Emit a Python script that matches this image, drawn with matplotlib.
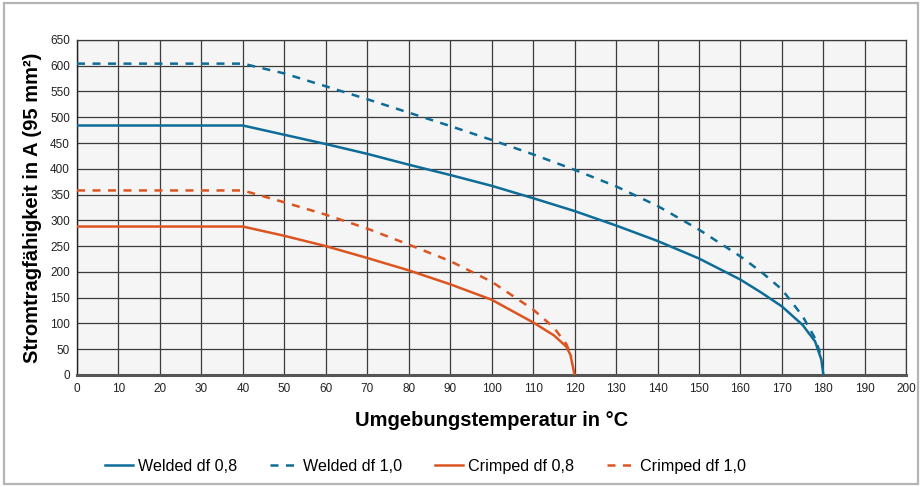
import matplotlib
matplotlib.use("Agg")
import matplotlib.pyplot as plt
from matplotlib.patches import Rectangle

plt.rcParams["font.family"] = ["Liberation Sans", "DejaVu Sans"]

# ============================================================
# DATA
# ============================================================

WELDED_08_T = [0, 40, 50, 60, 70, 80, 90, 100, 110, 120, 130, 140, 150,
               160, 165, 170, 175, 178, 179.5, 180]
WELDED_08_I = [484, 484, 466, 448, 429, 408, 388, 367, 343, 318, 290, 260, 226,
               185, 160, 133, 97, 65, 30, 0]

WELDED_10_T = [0, 40, 50, 60, 70, 80, 90, 100, 110, 120, 130, 140, 150,
               160, 165, 170, 175, 178, 179.5]
WELDED_10_I = [604, 604, 585, 560, 535, 509, 483, 456, 428, 398, 366, 328, 282,
               230, 200, 166, 114, 71, 35]

CRIMPED_08_T = [0, 40, 50, 60, 70, 80, 90, 100, 110, 115, 118, 119, 120]
CRIMPED_08_I = [288, 288, 270, 250, 227, 203, 176, 146, 102, 77, 55, 39, 0]

CRIMPED_10_T = [0, 40, 50, 60, 70, 80, 90, 100, 110, 115, 118, 119.3]
CRIMPED_10_I = [358, 358, 335, 311, 284, 253, 221, 181, 127, 92, 60, 36]

X_TICKS = list(range(0, 201, 10))
Y_TICKS = list(range(0, 651, 50))

BLUE = "#0d6c98"
ORANGE = "#dc5520"

# ============================================================
# PLOT
# ============================================================

fig = plt.figure(figsize=(9.22, 4.87), dpi=100)
ax = fig.add_axes([0.0835, 0.230, 0.8995, 0.688])

ax.set_facecolor("#f5f5f5")

lw = 1.8
dash = (3.2, 3.0)

ax.plot(WELDED_08_T, WELDED_08_I, color=BLUE, lw=lw,
        label="Welded df 0,8", zorder=4)
ax.plot(WELDED_10_T, WELDED_10_I, color=BLUE, lw=lw, dashes=dash,
        label="Welded df 1,0", zorder=4)
ax.plot(CRIMPED_08_T, CRIMPED_08_I, color=ORANGE, lw=lw,
        label="Crimped df 0,8", zorder=4)
ax.plot(CRIMPED_10_T, CRIMPED_10_I, color=ORANGE, lw=lw, dashes=dash,
        label="Crimped df 1,0", zorder=4)

ax.set_xlim(0, 200)
ax.set_ylim(0, 650)
ax.set_xticks(X_TICKS)
ax.set_yticks(Y_TICKS)

ax.grid(True, color="#3c3c3c", lw=0.9)
ax.set_axisbelow(True)

for side in ["top", "right"]:
    ax.spines[side].set_color("#3c3c3c")
    ax.spines[side].set_linewidth(0.9)
ax.spines["left"].set_color("#222222")
ax.spines["left"].set_linewidth(1.0)
ax.spines["bottom"].set_color("#555555")
ax.spines["bottom"].set_linewidth(2.2)

ax.tick_params(axis="both", length=0, labelsize=8.5, colors="#222222")
ax.tick_params(axis="x", pad=6)
ax.tick_params(axis="y", pad=5)

ax.set_xlabel("Umgebungstemperatur in °C", fontsize=14.5, fontweight="bold",
              labelpad=11)
ax.set_ylabel("Stromtragfähigkeit in A (95 mm²)", fontsize=14.5,
              fontweight="bold", labelpad=6)

fig.legend(
    loc="center",
    bbox_to_anchor=(0.4615, 0.043),
    ncol=4,
    frameon=False,
    fontsize=11.6,
    handlelength=1.75,
    handletextpad=0.33,
    columnspacing=2.0,
)

# outer frame
fig.patches.append(
    Rectangle((0.004, 0.006), 0.992, 0.988, transform=fig.transFigure,
              fill=False, edgecolor="#b5b5b5", lw=1.6)
)

fig.savefig("out.png", dpi=100)
